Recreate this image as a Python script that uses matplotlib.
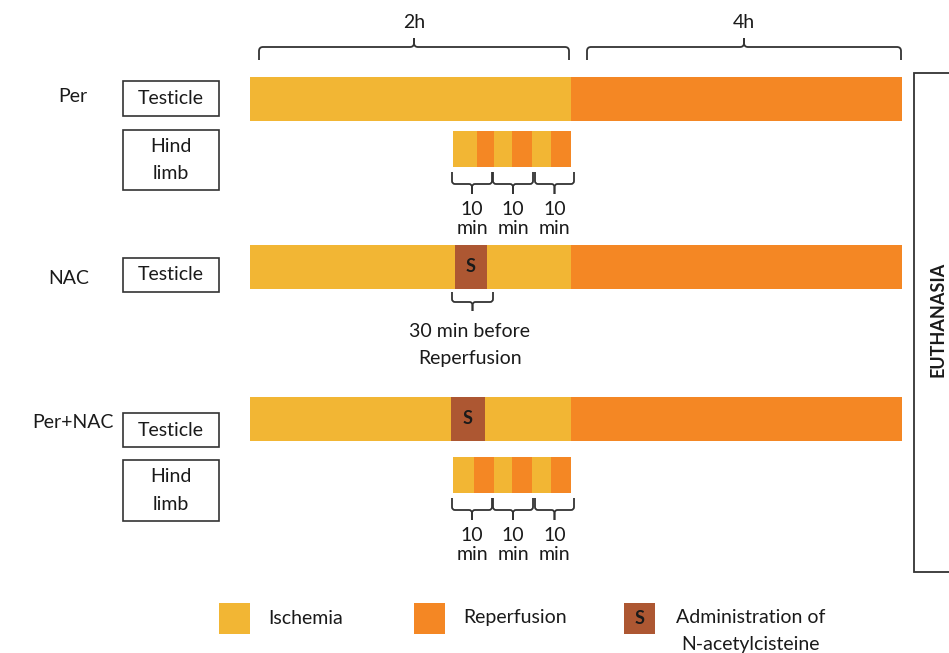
import matplotlib
matplotlib.use("Agg")
import matplotlib.pyplot as plt
from matplotlib.patches import Rectangle, PathPatch
from matplotlib.path import Path

plt.rcParams['font.family'] = ['Lato', 'DejaVu Sans']

# ---------------- data (diagram units) ----------------
phase_labels = ["2h", "4h"]
phase_spans = [(259, 569), (587, 901)]

group_names = ["Per", "NAC", "Per+NAC"]
group_label_pos = [(73, 97), (69, 278), (73, 423)]

# testicle timelines: list of (phase, start, end)
testicle_rows = {
    "Per": [("I", 250, 571), ("R", 571, 902)],
    "NAC": [("I", 250, 455), ("S", 455, 487), ("I", 487, 571), ("R", 571, 902)],
    "Per+NAC": [("I", 250, 451), ("S", 451, 485), ("I", 485, 571), ("R", 571, 902)],
}
testicle_y = {"Per": (77, 121), "NAC": (245, 289), "Per+NAC": (397, 441)}

# hind limb preconditioning cycles (edges, alternating ischemia / reperfusion)
hind_edges = {
    "Per": [453, 477, 494, 512, 532, 551, 571],
    "Per+NAC": [453, 474, 494, 512, 532, 551, 571],
}
hind_y = {"Per": (131, 167), "Per+NAC": (457, 493)}

cycle_braces = [(452, 492), (493, 533), (535, 574)]
cycle_label = "10\nmin"

labels_boxes = {
    "Per": [("Testicle", 81, 116), ("Hind\nlimb", 130, 190)],
    "NAC": [("Testicle", 258, 292)],
    "Per+NAC": [("Testicle", 413, 447), ("Hind\nlimb", 460, 521)],
}

legend_items = [("Ischemia", "I", 219), ("Reperfusion", "R", 414),
                ("Administration of\nN-acetylcisteine", "S", 624)]

colors = {"I": "#F2B634", "R": "#F48724", "S": "#AD5732"}
text_color = "#1a1a1a"
line_color = "#333333"

# ---------------- drawing ----------------
W, H = 949, 653
fig = plt.figure(figsize=(W / 100, H / 100), dpi=100)
ax = fig.add_axes([0, 0, 1, 1])
ax.set_xlim(0, W)
ax.set_ylim(H, 0)
ax.axis("off")

FS = 14
LS2 = 1.75   # two-line spacing (~26 px)


def brace(x0, x1, y_end, y_line, y_tip, r=4, lw=1.3):
    xc = (x0 + x1) / 2
    s = 1 if y_tip > y_line else -1
    for xe, d in ((x0, 1), (x1, -1)):
        verts = [(xe, y_end), (xe, y_line - s * r), (xe, y_line), (xe + d * r, y_line),
                 (xc - d * r, y_line), (xc, y_line), (xc, y_line + s * r), (xc, y_tip)]
        codes = [Path.MOVETO, Path.LINETO, Path.CURVE3, Path.CURVE3,
                 Path.LINETO, Path.CURVE3, Path.CURVE3, Path.LINETO]
        ax.add_patch(PathPatch(Path(verts, codes), fill=False, ec=line_color, lw=lw,
                               capstyle='butt', joinstyle='round'))


# phase braces on top
for lab, (x0, x1) in zip(phase_labels, phase_spans):
    brace(x0, x1, 60, 47, 38)
    ax.text((x0 + x1) / 2, 22, lab, ha="center", va="center", fontsize=FS, color=text_color)

# group labels
for name, (x, y) in zip(group_names, group_label_pos):
    ax.text(x, y, name, ha="center", va="center", fontsize=FS, color=text_color)

# label boxes
for name, boxes in labels_boxes.items():
    for txt, y0, y1 in boxes:
        ax.add_patch(Rectangle((123, y0), 96, y1 - y0, fill=False, ec=line_color, lw=1.2))
        ax.text(171, (y0 + y1) / 2, txt, ha="center", va="center", fontsize=FS,
                color=text_color, linespacing=LS2)

# testicle bars
for name, segs in testicle_rows.items():
    y0, y1 = testicle_y[name]
    for ph, a, b in segs:
        ax.add_patch(Rectangle((a, y0), b - a, y1 - y0, fc=colors[ph], ec="none"))
        if ph == "S":
            ax.text((a + b) / 2, (y0 + y1) / 2, "S", ha="center", va="center",
                    fontsize=FS - 1, fontweight="bold", color=text_color)

# hind limb cycles
for name, edges in hind_edges.items():
    y0, y1 = hind_y[name]
    for i in range(len(edges) - 1):
        ph = "I" if i % 2 == 0 else "R"
        ax.add_patch(Rectangle((edges[i], y0), edges[i + 1] - edges[i], y1 - y0,
                               fc=colors[ph], ec="none"))
    by = y1 + 5
    for a, b in cycle_braces:
        brace(a, b, by, by + 12, by + 22, r=3)
        ax.text((a + b) / 2, by + 47, cycle_label, ha="center", va="center",
                fontsize=FS, color=text_color, linespacing=1.2)

# NAC administration brace
sa, sb = testicle_rows["NAC"][1][1], testicle_rows["NAC"][1][2]
brace(sa - 3, sb + 6, 292, 302, 311, r=3)
ax.text(470, 345, "30 min before\nReperfusion", ha="center", va="center",
        fontsize=FS, color=text_color, linespacing=LS2)

# euthanasia frame
ax.plot([W + 2, 914, 914, W + 2], [73, 73, 572, 572], color=line_color, lw=1.3,
        solid_joinstyle='miter')
ax.text(938, 319, "EUTHANASIA", rotation=90, ha="center", va="center",
        fontsize=FS - 1, fontweight="bold", color=text_color)

# legend
for txt, ph, x in legend_items:
    ax.add_patch(Rectangle((x, 603), 31, 31, fc=colors[ph], ec="none"))
    if ph == "S":
        ax.text(x + 15.5, 618.5, "S", ha="center", va="center", fontsize=FS - 1,
                fontweight="bold", color=text_color)
    if "\n" in txt:
        ax.text(751, 631, txt, ha="center", va="center", fontsize=FS,
                color=text_color, linespacing=LS2)
    else:
        ax.text(x + 49, 618, txt, ha="left", va="center", fontsize=FS, color=text_color)

fig.savefig("out.png", dpi=100)
